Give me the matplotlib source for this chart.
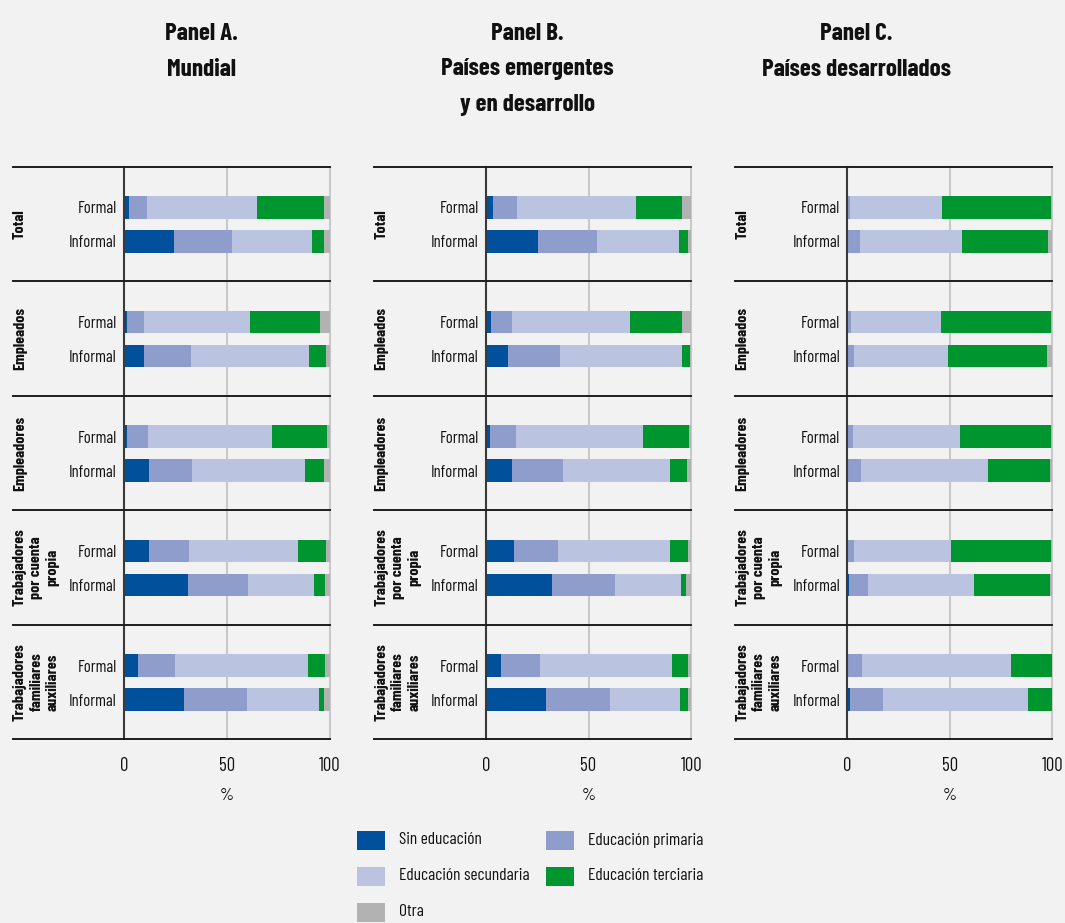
import matplotlib
matplotlib.use("Agg")
import matplotlib.pyplot as plt
from matplotlib import font_manager
from matplotlib.patches import Rectangle
import matplotlib.transforms as mtransforms
import numpy as np

# ---------------- data ----------------
groups = ["Total", "Empleados", "Empleadores",
          "Trabajadores\npor cuenta\npropia",
          "Trabajadores\nfamiliares\nauxiliares"]
rows = ["Formal", "Informal"]
categories = ["Sin educación", "Educación primaria", "Educación secundaria",
              "Educación terciaria", "Otra"]
titles = ["Panel A.\nMundial", "Panel B.\nPaíses emergentes\ny en desarrollo",
          "Panel C.\nPaíses desarrollados"]

# order: Total F, Total I, Empleados F, I, Empleadores F, I, Cuenta propia F, I, Familiares F, I
mundial_sin = [2.4, 24.3, 1.5, 9.7, 1.5, 12.2, 12.2, 31.1, 6.8, 29.2]
mundial_prim = [8.8, 28.2, 8.2, 22.9, 10.2, 20.9, 19.4, 29.2, 18.0, 30.6]
mundial_sec = [53.5, 38.9, 51.6, 57.4, 60.3, 54.9, 53.0, 32.1, 64.7, 35.0]
mundial_ter = [32.6, 5.9, 34.0, 8.2, 26.7, 9.2, 13.6, 5.3, 8.2, 2.4]
mundial_otra = [2.7, 2.7, 4.7, 1.8, 1.3, 2.8, 1.8, 2.3, 2.3, 2.8]

emerg_sin = [3.6, 25.4, 2.6, 10.9, 2.1, 12.8, 13.8, 32.3, 7.5, 29.3]
emerg_prim = [11.6, 28.7, 10.2, 25.2, 12.6, 24.8, 21.4, 30.6, 18.9, 31.2]
emerg_sec = [57.9, 39.9, 57.4, 59.4, 61.8, 52.0, 54.4, 32.1, 64.2, 34.0]
emerg_ter = [22.4, 4.4, 25.3, 3.9, 22.4, 8.3, 8.8, 2.4, 7.8, 3.9]
emerg_otra = [4.5, 1.6, 4.5, 0.6, 1.1, 2.1, 1.6, 2.6, 1.6, 1.6]

desa_sin = [0.0, 0.3, 0.0, 0.0, 0.0, 0.0, 0.0, 1.0, 0.0, 1.5]
desa_prim = [1.5, 5.8, 1.9, 3.4, 2.9, 6.8, 3.4, 9.2, 7.3, 16.0]
desa_sec = [44.8, 49.7, 43.9, 45.8, 52.1, 61.9, 47.2, 51.7, 72.6, 70.6]
desa_ter = [53.1, 41.9, 53.6, 48.2, 44.4, 30.2, 48.8, 37.0, 19.9, 11.9]
desa_otra = [0.6, 2.1, 0.6, 2.6, 0.6, 1.1, 0.6, 1.1, 0.2, 0.0]

panels = [
    [mundial_sin, mundial_prim, mundial_sec, mundial_ter, mundial_otra],
    [emerg_sin, emerg_prim, emerg_sec, emerg_ter, emerg_otra],
    [desa_sin, desa_prim, desa_sec, desa_ter, desa_otra],
]
xticks = [0, 50, 100]

# ---------------- style ----------------
colors = ["#00509b", "#8e9dcb", "#bac3e0", "#00962f", "#b2b2b2"]
BG = "#f2f2f2"

names = {f.name for f in font_manager.fontManager.ttflist}
FONT = None
for cand in ["Barlow Condensed", "Roboto Condensed", "PT Sans Narrow", "Liberation Sans"]:
    if cand in names:
        FONT = cand
        break
plt.rcParams["font.family"] = [FONT, "DejaVu Sans"]
plt.rcParams["text.color"] = "#111111"
plt.rcParams["xtick.color"] = "#111111"
plt.rcParams["ytick.color"] = "#111111"
plt.rcParams["axes.labelcolor"] = "#111111"

W, H = 1065, 923
fig = plt.figure(figsize=(W / 100, H / 100), dpi=100, facecolor=BG)

# axes geometry in pixels: (x0, x100)
ax_px = [(123.7, 329.7), (485.7, 691.3), (847.0, 1052.3)]
line_left_px = [12.5, 374.0, 735.0]
title_cx = [201, 527.5, 856]
title_baselines = [39.5, 75.5, 111.5]
top_px, bot_px = 166.7, 739.3

for p in range(3):
    x0, x1 = ax_px[p]
    ax = fig.add_axes([x0 / W, 1 - bot_px / H, (x1 - x0) / W, (bot_px - top_px) / H])
    ax.set_facecolor("none")
    data = np.array(panels[p])
    n = data.shape[1]
    ypos = []
    for g in range(len(groups)):
        ypos += [g + 0.356, g + 0.653]
    ypos = np.array(ypos)
    left = np.zeros(n)
    for c in range(len(categories)):
        ax.barh(ypos, data[c], left=left, height=0.2, color=colors[c],
                edgecolor="none", zorder=3)
        left += data[c]
    ax.set_xlim(0, 100)
    ax.set_ylim(len(groups), 0)
    for sp in ax.spines.values():
        sp.set_visible(False)
    # gridlines
    for xv in [50, 100]:
        ax.axvline(xv, color="#c9c9c9", lw=1.5, zorder=1, clip_on=False)
    ax.axvline(0, color="#3a3a3a", lw=1.5, zorder=4, clip_on=False)
    # horizontal separators
    frac_left = (line_left_px[p] - x0) / (x1 - x0)
    trans = mtransforms.blended_transform_factory(ax.transAxes, ax.transData)
    for g in range(len(groups) + 1):
        ax.plot([frac_left, 1.0], [g, g], color="#1e1e1e", lw=1.4,
                transform=trans, clip_on=False, zorder=5)
    # ticks
    ax.set_xticks(xticks)
    ax.set_xticklabels([str(t) for t in xticks], fontsize=13.5)
    ax.tick_params(axis="x", length=0, pad=13)
    ax.set_xlabel("%", fontsize=13, labelpad=9)
    ax.set_yticks(ypos)
    ylabels = rows * len(groups)
    ax.set_yticklabels(ylabels, fontsize=12)
    ax.tick_params(axis="y", length=0, pad=5)
    # group labels
    for g, name in enumerate(groups):
        ax.text(frac_left + 0.002, g + 0.5, name, transform=trans, rotation=90,
                ha="left", va="center", multialignment="center",
                fontsize=11.5, fontweight="bold", linespacing=1.22)
    # title lines
    for i, line in enumerate(titles[p].split("\n")):
        fig.text(title_cx[p] / W, 1 - title_baselines[i] / H, line, ha="center",
                 va="baseline", fontsize=18, fontweight="bold")

# ---------------- legend ----------------
leg_items = [(0, 357, 840), (1, 546, 840), (2, 357, 876), (3, 546, 876), (4, 357, 912)]
for c, lx, ly in leg_items:
    fig.patches.append(Rectangle((lx / W, 1 - (ly + 9.5) / H), 27.5 / W, 19 / H,
                                 transform=fig.transFigure, facecolor=colors[c],
                                 edgecolor="none"))
    fig.text((lx + 42) / W, 1 - ly / H, categories[c], ha="left", va="center",
             fontsize=12.5)

fig.savefig("out.png", dpi=100, facecolor=BG)
